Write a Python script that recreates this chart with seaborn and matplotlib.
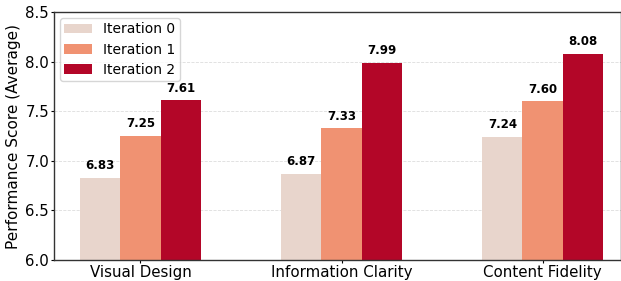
import pandas as pd
import numpy as np
import matplotlib.pyplot as plt
import seaborn as sns

categories = ['Visual Design', 'Information Clarity', 'Content Fidelity']
iterations = ['Iteration 0', 'Iteration 1', 'Iteration 2']
iter0 = [6.83, 6.87, 7.24]
iter1 = [7.25, 7.33, 7.60]
iter2 = [7.61, 7.99, 8.08]
colors = ['#e8d5cc', '#f09272', '#b30628']

#Long format table for seaborn
df = pd.DataFrame({
    'Category': categories * 3,
    'Iteration': [it for it in iterations for _ in categories],
    'Score': iter0 + iter1 + iter2,
})

sns.set_style('white')
plt.rcParams['font.family'] = ['DejaVu Sans']
plt.rcParams['text.color'] = 'black'
plt.rcParams['axes.labelcolor'] = 'black'
plt.rcParams['xtick.color'] = 'black'
plt.rcParams['ytick.color'] = 'black'

fig = plt.figure(figsize=(6.21, 2.81), dpi=100)
ax = fig.add_axes([0.087, 0.075, 0.913, 0.882])

sns.barplot(data=df, x='Category', y='Score', hue='Iteration', palette=colors,
            width=0.6, gap=0, saturation=1, ax=ax, errorbar=None, linewidth=0)

for cont in ax.containers:
    ax.bar_label(cont, fmt='%.2f', padding=4, fontsize=8.5, fontweight='bold')

ax.set_ylim(6.0, 8.5)
ax.set_xlim(-0.43, 2.39)
ax.set_yticks([6.0, 6.5, 7.0, 7.5, 8.0, 8.5])
ax.yaxis.grid(True, linestyle='--', color='#dddddd', linewidth=0.6)
ax.set_axisbelow(True)
ax.set_xlabel('')
ax.set_ylabel('Performance Score (Average)', fontsize=11, labelpad=3)
ax.tick_params(axis='both', labelsize=10.8, length=2.5, pad=1, left=True, bottom=True)
for s in ax.spines.values():
    s.set_color('#333333')
    s.set_linewidth(1)

ax.legend(loc='upper left', fontsize=10, frameon=True, title=None,
          borderpad=0.3, labelspacing=0.45, borderaxespad=0.45)

fig.savefig('out.png', dpi=100)
